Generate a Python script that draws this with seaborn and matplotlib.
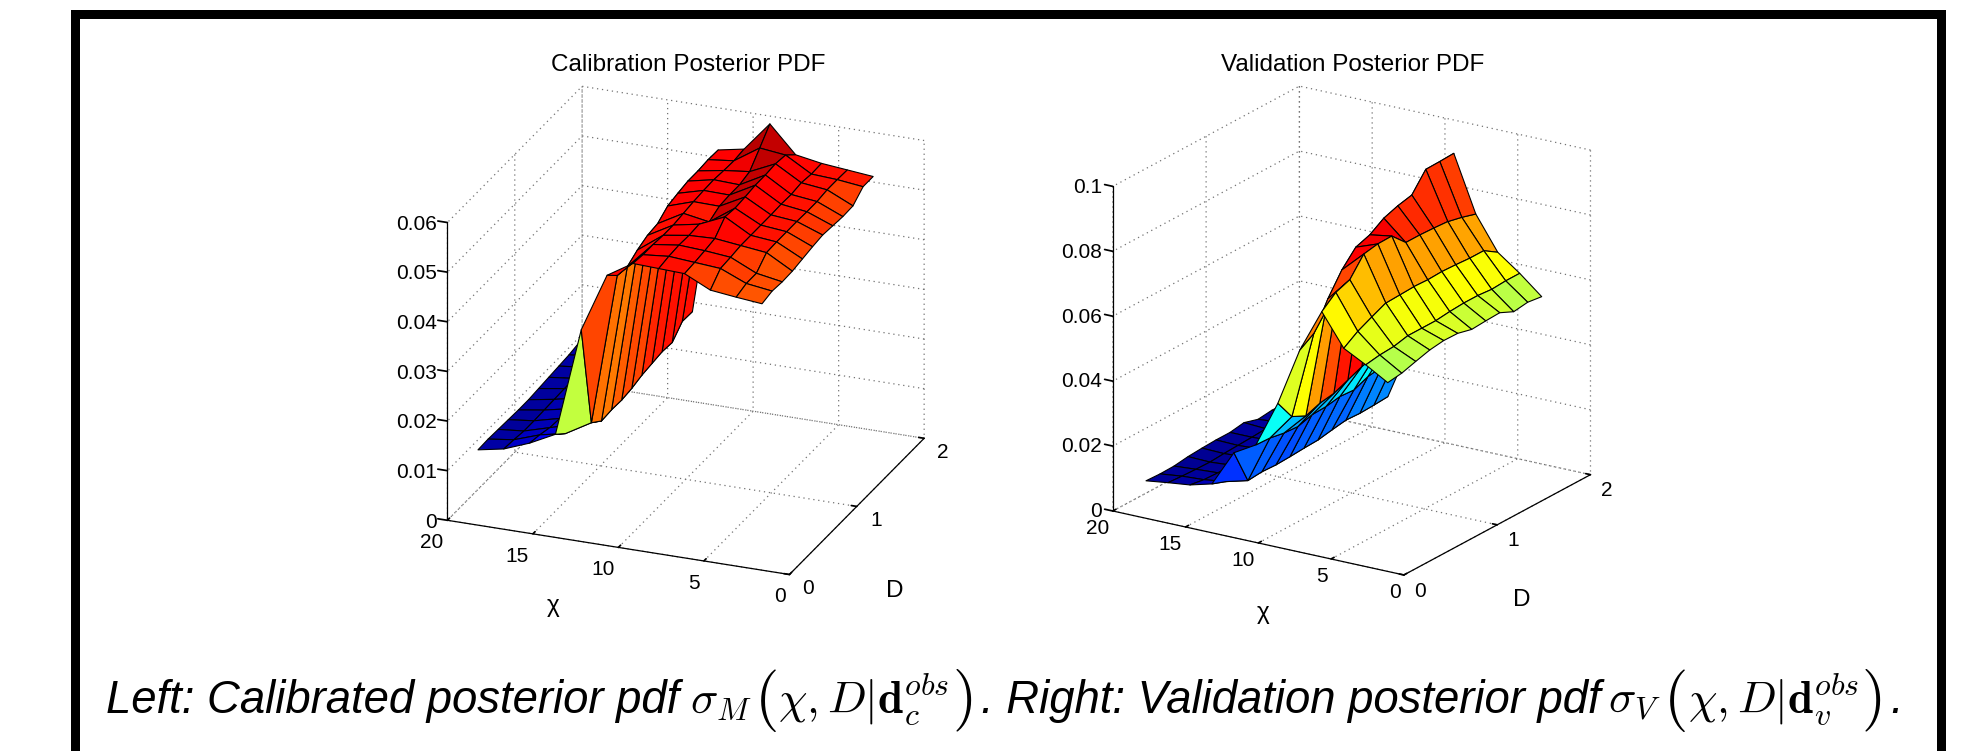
import numpy as np
import matplotlib
matplotlib.use("Agg")
import matplotlib.pyplot as plt
from matplotlib.patches import Rectangle
from matplotlib.colors import LinearSegmentedColormap
from mpl_toolkits.mplot3d import proj3d
import seaborn as sns

sns.set_theme(style="white")
plt.rcParams['font.family'] = ['Liberation Sans', 'DejaVu Sans']
plt.rcParams['mathtext.fontset'] = 'cm'

W, H = 1986, 751

chi = [19.0 - 1.51 * i for i in range(12)]
dee = [0.2 + 0.15 * j for j in range(12)]

titles = ["Calibration Posterior PDF", "Validation Posterior PDF"]
x_ticks = [0, 5, 10, 15, 20]
y_ticks = [0, 1, 2]
z_ticks_left = [0, 0.01, 0.02, 0.03, 0.04, 0.05, 0.06]
z_labels_left = ["0", "0.01", "0.02", "0.03", "0.04", "0.05", "0.06"]
z_ticks_right = [0, 0.02, 0.04, 0.06, 0.08, 0.1]
z_labels_right = ["0", "0.02", "0.04", "0.06", "0.08", "0.1"]

z_left = [
    [.0120,.0121,.0120,.0119,.0118,.0118,.0120,.0122,.0124,.0126,.0130,.0132],
    [.0130,.0128,.0125,.0125,.0126,.0127,.0128,.0128,.0130,.0132,.0132,.0135],
    [.0150,.0146,.0140,.0138,.0137,.0138,.0138,.0140,.0140,.0142,.0145,.0145],
    [.0176,.0157,.0155,.0150,.0150,.0152,.0152,.0155,.0155,.0158,.0160,.0160],
    [.0395,.0187,.0170,.0172,.0171,.0174,.0180,.0183,.0186,.0184,.0206,.0205],
    [.0513,.0492,.0489,.0502,.0511,.0514,.0529,.0534,.0538,.0538,.0540,.0539],
    [.0545,.0542,.0542,.0540,.0540,.0543,.0546,.0548,.0549,.0547,.0546,.0549],
    [.0543,.0547,.0549,.0548,.0550,.0534,.0545,.0547,.0547,.0553,.0580,.0608],
    [.0541,.0543,.0546,.0550,.0573,.0570,.0572,.0575,.0575,.0577,.0574,.0554],
    [.0516,.0539,.0541,.0544,.0544,.0544,.0544,.0545,.0544,.0547,.0544,.0545],
    [.0510,.0517,.0517,.0538,.0539,.0539,.0539,.0538,.0538,.0541,.0541,.0540],
    [.0505,.0510,.0508,.0509,.0513,.0517,.0520,.0518,.0516,.0517,.0535,.0535],
]
z_right = [
    [.0072,.0070,.0071,.0077,.0080,.0082,.0082,.0089,.0076,.0081,.0080,.0080],
    [.0081,.0078,.0076,.0075,.0078,.0080,.0082,.0085,.0082,.0080,.0080,.0080],
    [.0089,.0082,.0080,.0080,.0082,.0084,.0085,.0088,.0086,.0085,.0085,.0085],
    [.0107,.0091,.0088,.0088,.0090,.0092,.0094,.0096,.0096,.0095,.0095,.0095],
    [.0218,.0109,.0113,.0111,.0113,.0116,.0118,.0126,.0133,.0131,.0133,.0136],
    [.0257,.0255,.0247,.0244,.0257,.0259,.0267,.0264,.0282,.0289,.0292,.0305],
    [.0400,.0336,.0315,.0331,.0338,.0356,.0374,.0387,.0400,.0407,.0420,.0432],
    [.0579,.0607,.0690,.0756,.0803,.0818,.0846,.0861,.0871,.0927,.0928,.0930],
    [.0712,.0748,.0764,.0820,.0828,.0829,.0786,.0786,.0784,.0781,.0771,.0758],
    [.0614,.0643,.0664,.0684,.0686,.0688,.0686,.0688,.0686,.0683,.0683,.0655],
    [.0578,.0585,.0588,.0598,.0598,.0598,.0603,.0606,.0606,.0602,.0605,.0605],
    [.0538,.0544,.0557,.0569,.0575,.0574,.0563,.0566,.0568,.0548,.0554,.0548],
]

jet = LinearSegmentedColormap.from_list("matlab_jet", [
    (0.0, (0, 0, 0.5625)), (0.125, (0, 0, 1)), (0.375, (0, 1, 1)),
    (0.625, (1, 1, 0)), (0.875, (1, 0, 0)), (1.0, (0.5, 0, 0))])


def to_display(ax, x, y, z):
    xp, yp, _ = proj3d.proj_transform(x, y, z, ax.get_proj())
    return ax.transData.transform((xp, yp))


def panel(zdata, zticks, zlabels, zmax, title, azim, elev, aspect,
          origin, x_len, title_xy, xpad):
    ax = fig.add_axes([0.1, 0.02, 0.4, 0.96], projection='3d', proj_type='ortho')
    ax.patch.set_alpha(0)
    Z = np.array(zdata)
    X, Y = np.meshgrid(chi, dee, indexing='ij')
    vmin, vmax = Z.min(), Z.max()
    # each face takes the colour of its corner nearest chi = 0
    Cidx = Z[1:, :-1]
    fc = jet((Cidx - vmin) / (vmax - vmin))
    surf = ax.plot_surface(X, Y, Z, facecolors=fc, rstride=1, cstride=1,
                           shade=False, antialiased=True)
    surf.set_edgecolor('black')
    surf.set_linewidth(0.8)
    ax.set_xlim(20, 0)
    ax.set_ylim(0, 2)
    ax.set_zlim(0, zmax)
    ax.set_xticks(x_ticks)
    ax.set_yticks(y_ticks)
    ax.set_zticks(zticks)
    ax.set_zticklabels(zlabels)
    ax.view_init(elev=elev, azim=azim)
    for a in (ax.xaxis, ax.yaxis, ax.zaxis):
        a.pane.set_visible(False)
        a.line.set_color('black')
        a.line.set_linewidth(0.9)
        a._axinfo['grid'].update(color='0.45', linestyle=(0, (1, 3)), linewidth=0.9)
        a._axinfo['tick'].update(inward_factor=0.0, outward_factor=0.2)
    ax.zaxis._axinfo['tick'].update(inward_factor=0.0, outward_factor=0.35)
    ax.zaxis._axinfo['juggled'] = (1, 2, 0)
    ax.grid(True)
    ax.tick_params(axis='x', labelsize=15, pad=xpad, colors='black')
    ax.tick_params(axis='y', labelsize=15, pad=7, colors='black')
    ax.tick_params(axis='z', labelsize=15, pad=-2, colors='black')
    for t in ax.get_xticklabels():
        t.set_ha('right')
    for t in ax.get_yticklabels():
        t.set_va('baseline')
    for t in ax.get_zticklabels():
        t.set_ha('right')
        t.set_va('center')
    ax.set_box_aspect(aspect, zoom=1.0)
    fig.canvas.draw()
    a0 = to_display(ax, 20, 0, 0)
    b0 = to_display(ax, 0, 0, 0)
    ax.set_box_aspect(aspect, zoom=x_len / np.hypot(*(b0 - a0)))
    fig.canvas.draw()
    a0 = to_display(ax, 20, 0, 0)
    dx = (origin[0] - a0[0]) / W
    dy = ((H - origin[1]) - a0[1]) / H
    p = ax.get_position()
    ax.set_position([p.x0 + dx, p.y0 + dy, p.width, p.height])
    fig.text(title_xy[0] / W, 1 - title_xy[1] / H, title, ha='center', va='center',
             fontsize=17.5, color='black')
    return ax


fig = plt.figure(figsize=(W / 100, H / 100), dpi=100, facecolor='white')

panel(z_left, z_ticks_left, z_labels_left, 0.06, titles[0], -68.4, 23.6,
      (367.8, 365.9, 324.9), (447.4, 520.3), 346.3, (688, 65), 0)
panel(z_right, z_ticks_right, z_labels_right, 0.1, titles[1], -57.4, 20.1,
      (345.4, 346.3, 345.6), (1112.8, 511), 298.0, (1353, 65), -3)

for (lx, ly, s) in [(553, 606, "χ"), (895, 591, "D"), (1263, 613, "χ"), (1522, 600, "D")]:
    fig.text(lx / W, 1 - ly / H, s, ha='center', va='center', fontsize=17.5, color='black')

# black frame
for (x0, y0, x1, y1) in [(71, 10, 80, 751), (1937, 10, 1946, 751), (71, 10, 1946, 19)]:
    fig.add_artist(Rectangle((x0 / W, 1 - y1 / H), (x1 - x0) / W, (y1 - y0) / H,
                             transform=fig.transFigure, facecolor='black', edgecolor='none'))

# caption built from consecutive pieces: text, italic, size, drop below baseline, gap after
BIG = 45
SIZE = 32.8
pieces = [
    ("Left: Calibrated posterior pdf", True, SIZE, 0, 11),
    (r"$\sigma_M$", False, SIZE, 0, 2),
    (r"$($", False, BIG, 3, 2),
    (r"$\chi,D|\mathbf{d}_c^{obs}$", False, SIZE, 0, 2),
    (r"$)$", False, BIG, 3, 9),
    (". Right: Validation posterior pdf", True, SIZE, 0, 8),
    (r"$\sigma_V$", False, SIZE, 0, 2),
    (r"$($", False, BIG, 3, 2),
    (r"$\chi,D|\mathbf{d}_v^{obs}$", False, SIZE, 0, 2),
    (r"$)$", False, BIG, 3, 9),
    (".", True, SIZE, 0, 0),
]
cx = 106
r = fig.canvas.get_renderer()
for s, ital, size, drop, gap in pieces:
    t = fig.text(cx / W, 1 - (713 + drop) / H, s, ha='left', va='baseline', fontsize=size,
                 style='italic' if ital else 'normal', color='black')
    cx += t.get_window_extent(r).width + gap

fig.savefig("out.png", dpi=100, facecolor='white')
